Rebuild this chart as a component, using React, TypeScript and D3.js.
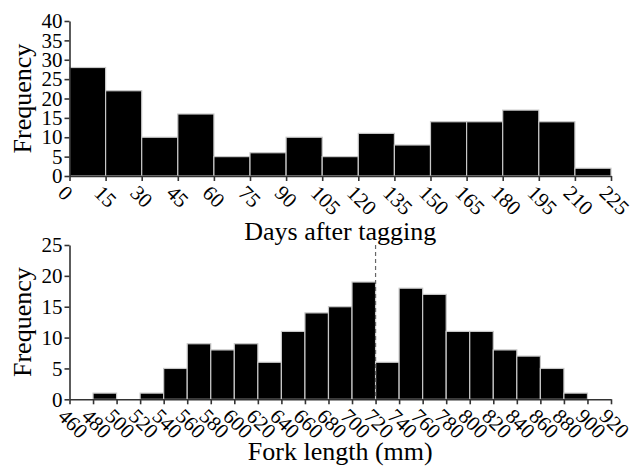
import React, { useRef, useEffect } from 'react';
import * as d3 from 'd3';

// days after tagging, 15-day bins from 0 to 225
const dayBins = [0, 15, 30, 45, 60, 75, 90, 105, 120, 135, 150, 165, 180, 195, 210];
const dayCounts = [28, 22, 10, 16, 5, 6, 10, 5, 11, 8, 14, 14, 17, 14, 2];
const dayTicks = [0, 15, 30, 45, 60, 75, 90, 105, 120, 135, 150, 165, 180, 195, 210, 225];
const dayYTicks = [0, 5, 10, 15, 20, 25, 30, 35, 40];

// fork length, 20 mm bins from 460 to 920
const lenBins = [460, 480, 500, 520, 540, 560, 580, 600, 620, 640, 660, 680, 700, 720, 740, 760, 780, 800, 820, 840, 860, 880, 900];
const lenCounts = [0, 1, 0, 1, 5, 9, 8, 9, 6, 11, 14, 15, 19, 6, 18, 17, 11, 11, 8, 7, 5, 1, 0];
const lenTicks = [460, 480, 500, 520, 540, 560, 580, 600, 620, 640, 660, 680, 700, 720, 740, 760, 780, 800, 820, 840, 860, 880, 900, 920];
const lenYTicks = [0, 5, 10, 15, 20, 25];
const cutLength = 720;

const FONT = '"Liberation Serif", "Times New Roman", serif';

const App = () => {
  const svgRef = useRef<SVGSVGElement>(null);

  useEffect(() => {
    const svg = d3.select(svgRef.current);
    svg.selectAll('*').remove();

    const LEFT = 69.5;
    const RIGHT = 611;

    const drawPanel = (opts: {
      bins: number[];
      counts: number[];
      width: number;
      xDomain: [number, number];
      xTicks: number[];
      yDomain: [number, number];
      yTicks: number[];
      top: number;
      bottom: number;
      title: string;
      titleY: number;
    }) => {
      const x = d3.scaleLinear().domain(opts.xDomain).range([LEFT, RIGHT]);
      const y = d3.scaleLinear().domain(opts.yDomain).range([opts.bottom, opts.top]);
      const g = svg.append('g');

      // bars
      g.selectAll('rect')
        .data(opts.bins.map((b, i) => ({ b, c: opts.counts[i] })).filter((d) => d.c > 0))
        .enter()
        .append('rect')
        .attr('x', (d) => x(d.b))
        .attr('y', (d) => y(d.c))
        .attr('width', (d) => x(d.b + opts.width) - x(d.b))
        .attr('height', (d) => y(0) - y(d.c))
        .attr('fill', '#000')
        .attr('stroke', '#c8c8c8')
        .attr('stroke-width', 1.2);

      // y axis
      const yAxis = g
        .append('g')
        .attr('transform', `translate(${LEFT},0)`)
        .attr('font-family', FONT)
        .call(d3.axisLeft(y).tickValues(opts.yTicks).tickSize(5).tickPadding(2).tickSizeOuter(0));
      yAxis.attr('font-family', FONT);
      yAxis.selectAll('text').attr('font-size', 21).attr('font-family', FONT).attr('fill', '#000');

      // x axis
      const xAxis = g
        .append('g')
        .attr('transform', `translate(0,${opts.bottom})`)
        .call(d3.axisBottom(x).tickValues(opts.xTicks).tickFormat(d3.format('d')).tickSize(5).tickSizeOuter(0));
      xAxis.attr('font-family', FONT);
      xAxis
        .selectAll('text')
        .attr('font-size', 21)
        .attr('font-family', FONT)
        .attr('fill', '#000')
        .attr('text-anchor', 'start')
        .attr('transform', 'translate(-2,7) rotate(45)')
        .attr('x', 0)
        .attr('y', 0)
        .attr('dy', '0.75em');

      [xAxis, yAxis].forEach((a) => {
        a.select('.domain').attr('stroke', '#333').attr('stroke-width', 1.6);
        a.selectAll('line').attr('stroke', '#333').attr('stroke-width', 1.6);
      });

      // axis titles
      g.append('text')
        .attr('x', (LEFT + RIGHT) / 2)
        .attr('y', opts.titleY)
        .attr('text-anchor', 'middle')
        .attr('font-size', 26)
        .attr('font-family', FONT)
        .text(opts.title);

      g.append('text')
        .attr('transform', `translate(31,${(opts.top + opts.bottom) / 2}) rotate(-90)`)
        .attr('text-anchor', 'middle')
        .attr('font-size', 26)
        .attr('font-family', FONT)
        .text('Frequency');

      return { x, y, g };
    };

    drawPanel({
      bins: dayBins,
      counts: dayCounts,
      width: 15,
      xDomain: [0, 225],
      xTicks: dayTicks,
      yDomain: [0, 40],
      yTicks: dayYTicks,
      top: 21,
      bottom: 176,
      title: 'Days after tagging',
      titleY: 240,
    });

    const p2 = drawPanel({
      bins: lenBins,
      counts: lenCounts,
      width: 20,
      xDomain: [460, 920],
      xTicks: lenTicks,
      yDomain: [0, 25],
      yTicks: lenYTicks,
      top: 245,
      bottom: 399.3,
      title: 'Fork length (mm)',
      titleY: 460,
    });

    // dashed reference line
    p2.g
      .append('line')
      .attr('x1', p2.x(cutLength))
      .attr('x2', p2.x(cutLength))
      .attr('y1', p2.y(25))
      .attr('y2', p2.y(0))
      .attr('stroke', '#666')
      .attr('stroke-width', 1.2)
      .attr('stroke-dasharray', '4,3');
  }, []);

  return (
    <svg
      ref={svgRef}
      width={630}
      height={466}
      style={{ position: 'absolute', left: 0, top: 0, background: '#fff' }}
    />
  );
};

export default App;
